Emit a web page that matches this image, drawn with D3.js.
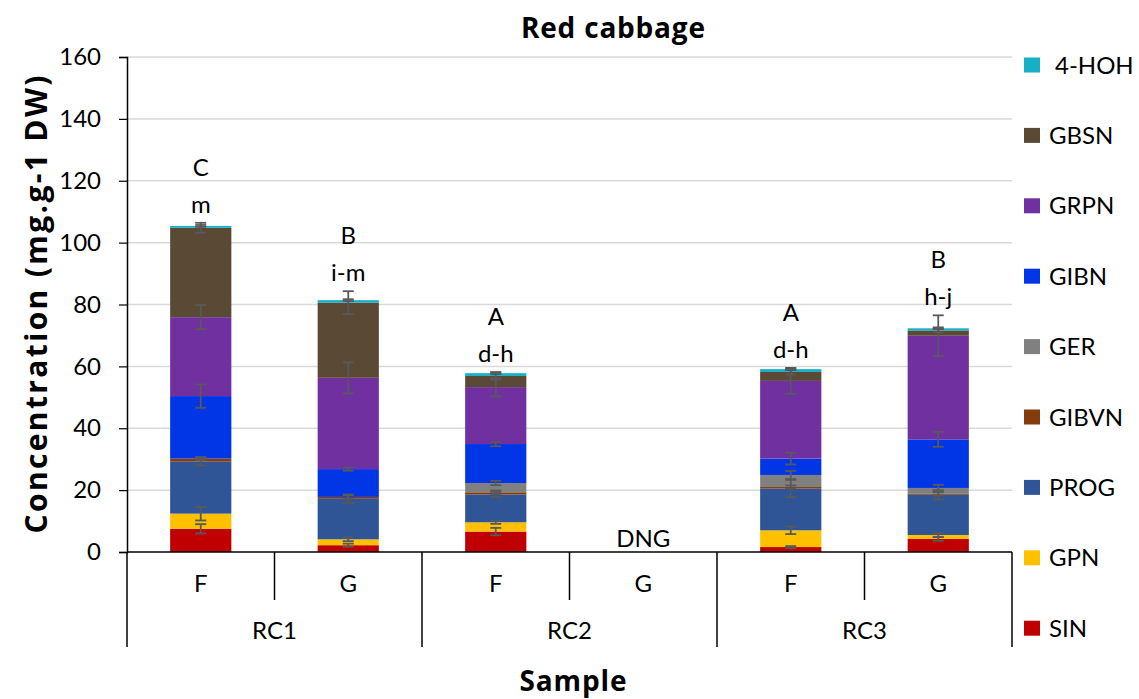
<!DOCTYPE html>
<html>
<head>
<meta charset="utf-8">
<script src="https://cdn.jsdelivr.net/npm/d3@7"></script>
<style>
  html, body { margin: 0; padding: 0; background: #fff; }
  svg { display: block; font-family: Lato, "Open Sans", sans-serif; }
  .bold-title { font-family: "Open Sans", Lato, sans-serif; font-weight: bold; }
</style>
</head>
<body>
<svg id="chart" width="1139" height="699"></svg>
<script>
// Sample layout: cultivar group and form (F / G) for each bar
const groupNames = ["RC1", "RC2", "RC3"];
const forms = ["F", "G", "F", "G", "F", "G"];
const groupOf = ["RC1", "RC1", "RC2", "RC2", "RC3", "RC3"];

// Stacked compounds, bottom to top
const seriesNames = ["SIN", "GPN", "PROG", "GIBVN", "GER", "GIBN", "GRPN", "GBSN", "4-HOH"];

// Concentrations (mg.g-1 DW); RC2 G was not grown (DNG)
const SIN   = [7.5, 2.2, 6.6, null, 1.6, 4.2];
const GPN   = [4.9, 1.9, 3.0, null, 5.4, 1.3];
const PROG  = [16.8, 13.1, 9.0, null, 13.5, 13.0];
const GIBVN = [1.0, 0.6, 0.7, null, 0.5, 0.3];
const GER   = [0, 0, 3.0, null, 3.9, 1.9];
const GIBN  = [20.2, 9.0, 12.6, null, 5.3, 15.7];
const GRPN  = [25.5, 29.5, 18.4, null, 25.1, 33.5];
const GBSN  = [28.9, 24.3, 3.6, null, 2.9, 1.7];
const HOH4  = [0.6, 0.8, 0.9, null, 0.9, 0.7];

// Standard deviations for each compound
const SIN_sd   = [1.5, 0.5, 1.2, null, 0.3, 0.6];
const GPN_sd   = [2.2, 0.6, 0.5, null, 1.2, 0.6];
const PROG_sd  = [1.2, 1.4, 0.8, null, 2.8, 1.5];
const GIBVN_sd = [0.5, 0.6, 0.6, null, 0.5, 0.5];
const GER_sd   = [0, 0, 0.7, null, 1.3, 1.0];
const GIBN_sd  = [3.8, 0.5, 0.7, null, 1.9, 2.4];
const GRPN_sd  = [3.9, 5.0, 3.0, null, 4.2, 6.6];
const GBSN_sd  = [1.6, 3.7, 1.2, null, 0.8, 0.6];
const HOH4_sd  = [0.3, 0.3, 0.3, null, 0.3, 0.3];

// Significance letters above each bar
const upperLetters = ["C", "B", "A", "", "A", "B"];
const lowerLetters = ["m", "i-m", "d-h", "", "d-h", "h-j"];
const missingText = ["", "", "", "DNG", "", ""];

const yTicks = [0, 20, 40, 60, 80, 100, 120, 140, 160];

const colors = {
  "SIN": "#c00000", "GPN": "#ffc000", "PROG": "#2f5597", "GIBVN": "#843c0c",
  "GER": "#808080", "GIBN": "#0036e6", "GRPN": "#7030a0", "GBSN": "#5a4a35",
  "4-HOH": "#17aec6"
};

const values = [SIN, GPN, PROG, GIBVN, GER, GIBN, GRPN, GBSN, HOH4];
const errors = [SIN_sd, GPN_sd, PROG_sd, GIBVN_sd, GER_sd, GIBN_sd, GRPN_sd, GBSN_sd, HOH4_sd];

const ids = forms.map((f, i) => groupOf[i] + "-" + f);
const table = ids.map((id, i) => {
  const row = { id: id };
  seriesNames.forEach((s, k) => { row[s] = values[k][i] == null ? 0 : values[k][i]; });
  return row;
});

const svg = d3.select("#chart");
const plotLeft = 127, plotRight = 1012, plotTop = 57, plotBottom = 552;

const x = d3.scaleBand().domain(ids).range([plotLeft, plotRight])
  .paddingInner(0.585).paddingOuter(0.2925);
const y = d3.scaleLinear().domain([0, 160]).range([plotBottom, plotTop]);
const step = x.step();
const gap = (step - x.bandwidth()) / 2;

// Horizontal gridlines
svg.append("g").selectAll("line").data(yTicks.filter(t => t > 0)).join("line")
  .attr("x1", plotLeft).attr("x2", plotRight)
  .attr("y1", d => y(d)).attr("y2", d => y(d))
  .attr("stroke", "#d9d9d9").attr("stroke-width", 1.5);

// Y axis
const yAxis = svg.append("g").attr("transform", `translate(${plotLeft},0)`)
  .call(d3.axisLeft(y).tickValues(yTicks).tickSize(8).tickPadding(18));
yAxis.select(".domain").attr("stroke", "#000").attr("stroke-width", 1.5);
yAxis.selectAll(".tick line").attr("stroke", "#000").attr("stroke-width", 1.2);
yAxis.selectAll(".tick text").attr("font-size", 24).attr("fill", "#000")
  .attr("font-family", "Lato, sans-serif");

// Stacked bars
const stacked = d3.stack().keys(seriesNames)(table);
const layers = svg.append("g").selectAll("g").data(stacked).join("g")
  .attr("fill", d => colors[d.key]);
layers.selectAll("rect").data(d => d.filter(p => p[1] - p[0] > 0)).join("rect")
  .attr("x", d => x(d.data.id))
  .attr("width", x.bandwidth())
  .attr("y", d => y(d[1]))
  .attr("height", d => y(d[0]) - y(d[1]));

// Error bars at the top of each segment
const errData = [];
stacked.forEach((layer, k) => {
  layer.forEach((p, i) => {
    const sd = errors[k][i];
    if (values[k][i] == null || sd == null || sd <= 0) return;
    errData.push({ id: p.data.id, v: p[1], sd: sd });
  });
});
const cap = 5.5;
const eb = svg.append("g").attr("stroke", "#595959").attr("stroke-width", 1.8);
errData.forEach(e => {
  const cx = x(e.id) + x.bandwidth() / 2;
  eb.append("line").attr("x1", cx).attr("x2", cx)
    .attr("y1", y(e.v - e.sd)).attr("y2", y(e.v + e.sd));
  [e.v - e.sd, e.v + e.sd].forEach(v => {
    eb.append("line").attr("x1", cx - cap).attr("x2", cx + cap)
      .attr("y1", y(v)).attr("y2", y(v));
  });
});

// X axis: baseline, form labels, group labels and separators
const ax = svg.append("g").attr("stroke", "#000");
ax.append("line").attr("x1", plotLeft).attr("x2", plotRight)
  .attr("y1", plotBottom).attr("y2", plotBottom).attr("stroke-width", 1.5);
ids.forEach((id, i) => {
  const xl = x(id) - gap;
  const isGroupStart = i === 0 || groupOf[i] !== groupOf[i - 1];
  ax.append("line").attr("x1", xl).attr("x2", xl)
    .attr("y1", plotBottom).attr("y2", isGroupStart ? 647 : 600).attr("stroke-width", 1.5);
});
ax.append("line").attr("x1", plotRight).attr("x2", plotRight)
  .attr("y1", plotBottom).attr("y2", 647).attr("stroke-width", 1.5);

svg.append("g").selectAll("text").data(ids).join("text")
  .attr("x", d => x(d) + x.bandwidth() / 2).attr("y", 592)
  .attr("text-anchor", "middle").attr("font-size", 24)
  .text((d, i) => forms[i]);

svg.append("g").selectAll("text").data(groupNames).join("text")
  .attr("x", g => {
    const members = ids.filter((id, i) => groupOf[i] === g);
    return (x(members[0]) - gap + x(members[members.length - 1]) + x.bandwidth() + gap) / 2;
  })
  .attr("y", 639).attr("text-anchor", "middle").attr("font-size", 24)
  .text(g => g);

// Significance letters
const labelBase = ids.map((id, i) => {
  let m = 0;
  stacked.forEach((layer, k) => {
    const sd = errors[k][i] || 0;
    m = Math.max(m, layer[i][1] + sd);
  });
  return y(m) - 10;
});
const ann = svg.append("g").attr("text-anchor", "middle").attr("font-size", 24);
ids.forEach((id, i) => {
  const cx = x(id) + x.bandwidth() / 2;
  if (lowerLetters[i]) {
    ann.append("text").attr("x", cx).attr("y", labelBase[i]).text(lowerLetters[i]);
    ann.append("text").attr("x", cx).attr("y", labelBase[i] - 37).text(upperLetters[i]);
  }
  if (missingText[i]) {
    ann.append("text").attr("x", cx).attr("y", plotBottom - 5).text(missingText[i]);
  }
});

// Titles
svg.append("text").attr("class", "bold-title")
  .attr("x", 613).attr("y", 38).attr("text-anchor", "middle")
  .attr("font-size", 28)
  .attr("textLength", 184).attr("lengthAdjust", "spacing")
  .text("Red cabbage");
svg.append("text").attr("class", "bold-title")
  .attr("x", 573).attr("y", 691).attr("text-anchor", "middle")
  .attr("font-size", 28)
  .attr("textLength", 107).attr("lengthAdjust", "spacing")
  .text("Sample");
svg.append("text").attr("class", "bold-title")
  .attr("transform", `translate(47,${(plotTop + plotBottom) / 2}) rotate(-90)`)
  .attr("text-anchor", "middle").attr("font-size", 30)
  .attr("textLength", 458).attr("lengthAdjust", "spacing")
  .text("Concentration (mg.g-1 DW)");

// Legend, top entry first
const legendItems = seriesNames.slice().reverse();
const lg = svg.append("g").selectAll("g").data(legendItems).join("g")
  .attr("transform", (d, i) => `translate(1024,${65 + i * 70.4})`);
lg.append("rect").attr("x", 0).attr("y", -7.5).attr("width", 16).attr("height", 15)
  .attr("fill", d => colors[d]);
lg.append("text").attr("x", d => d === "4-HOH" ? 31 : 25).attr("y", 8.5)
  .attr("font-size", 24).text(d => d);
</script>
</body>
</html>
